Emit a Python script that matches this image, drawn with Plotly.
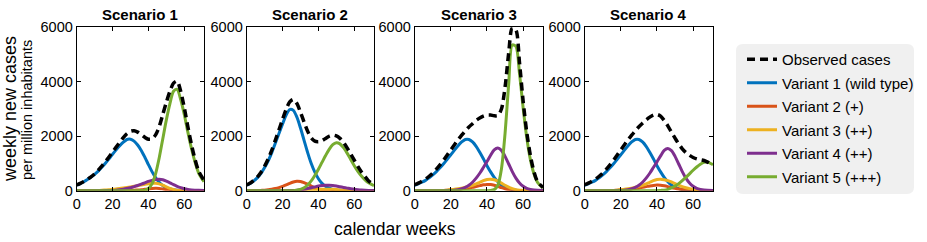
import plotly.graph_objects as go

W, H = 927, 242


def px(x):
    return x / W


def py(y):
    return 1 - y / H


WEEKS = [0, 2, 4, 6, 8, 10, 12, 14, 16, 18, 20, 22, 24, 26, 28, 30, 32, 34, 36, 38,
         40, 42, 44, 46, 48, 50, 52, 54, 56, 58, 60, 62, 64, 66, 68, 71]

SCENARIOS = ["Scenario 1", "Scenario 2", "Scenario 3", "Scenario 4"]
SERIES_NAMES = ["Variant 1 (wild type)", "Variant 2 (+)", "Variant 3 (++)",
                "Variant 4 (++)", "Variant 5 (+++)"]
OBS_NAME = "Observed cases"
X_TICKS = [0, 20, 40, 60]
Y_TICKS = [0, 2000, 4000, 6000]

# ---- Scenario 1 ----
s1_v1 = [200, 260, 330, 410, 500, 600, 720, 860, 1010, 1170, 1340, 1500, 1650, 1780, 1880, 1890, 1820, 1680, 1480, 1230,
         960, 700, 480, 310, 190, 110, 60, 35, 20, 10, 5, 0, 0, 0, 0, 0]
s1_v2 = [0, 0, 0, 0, 0, 0, 0, 0, 0, 0, 0, 0, 0, 5, 8, 12, 18, 25, 35, 50,
         65, 80, 90, 85, 65, 40, 20, 10, 5, 0, 0, 0, 0, 0, 0, 0]
s1_v3 = [0, 0, 0, 0, 0, 5, 10, 15, 25, 35, 50, 65, 80, 100, 120, 140, 160, 185, 210, 235,
         255, 270, 270, 250, 200, 140, 85, 45, 20, 10, 5, 0, 0, 0, 0, 0]
s1_v4 = [0, 0, 0, 0, 0, 0, 0, 0, 3, 6, 10, 20, 35, 55, 80, 110, 150, 190, 240, 290,
         340, 380, 410, 420, 400, 350, 290, 220, 160, 110, 70, 45, 30, 20, 12, 7]
s1_v5 = [0, 0, 0, 0, 0, 0, 0, 0, 0, 0, 0, 0, 0, 0, 0, 0, 0, 0, 5, 20,
         80, 250, 620, 1200, 1900, 2600, 3200, 3650, 3720, 3350, 2800, 2150, 1550, 1050, 650, 330]
s1_obs = [210, 270, 340, 420, 510, 620, 750, 900, 1060, 1240, 1420, 1600, 1780, 1950, 2090, 2180, 2200, 2150, 2060, 1960,
          1890, 1900, 2050, 2350, 2800, 3250, 3650, 3950, 4020, 3650, 3050, 2350, 1700, 1150, 720, 380]

# ---- Scenario 2 ----
s2_v1 = [200, 270, 360, 480, 640, 850, 1100, 1400, 1750, 2100, 2450, 2780, 2980, 2950, 2700, 2300, 1850, 1400, 1000, 680,
         440, 270, 160, 90, 50, 25, 12, 6, 0, 0, 0, 0, 0, 0, 0, 0]
s2_v2 = [0, 0, 0, 0, 10, 20, 35, 55, 80, 115, 160, 210, 270, 320, 350, 340, 300, 240, 170, 110,
         65, 35, 18, 8, 0, 0, 0, 0, 0, 0, 0, 0, 0, 0, 0, 0]
s2_v3 = [0, 0, 0, 0, 0, 0, 0, 0, 0, 0, 0, 0, 0, 0, 0, 5, 10, 15, 22, 30,
         40, 50, 55, 55, 50, 40, 30, 20, 12, 6, 0, 0, 0, 0, 0, 0]
s2_v4 = [0, 0, 0, 0, 0, 0, 0, 0, 0, 0, 0, 0, 5, 10, 20, 35, 55, 80, 110, 140,
         170, 190, 200, 200, 190, 170, 145, 120, 95, 70, 50, 35, 22, 14, 8, 4]
s2_v5 = [0, 0, 0, 0, 0, 0, 0, 0, 0, 0, 0, 0, 0, 0, 20, 50, 110, 210, 360, 560,
         790, 1040, 1290, 1520, 1690, 1760, 1720, 1580, 1380, 1150, 920, 710, 540, 400, 290, 190]
s2_obs = [210, 280, 380, 510, 680, 900, 1170, 1490, 1860, 2240, 2620, 2990, 3260, 3350, 3200, 2880, 2520, 2180, 1940, 1820,
          1800, 1840, 1920, 2000, 2040, 2010, 1920, 1770, 1570, 1350, 1120, 890, 690, 520, 360, 210]

# ---- Scenario 3 ----
s3_v1 = [200, 250, 310, 380, 470, 580, 700, 840, 990, 1150, 1320, 1490, 1650, 1790, 1880, 1880, 1790, 1630, 1410, 1170,
         920, 690, 490, 330, 210, 130, 75, 40, 20, 10, 5, 0, 0, 0, 0, 0]
s3_v2 = [0, 0, 0, 0, 0, 0, 5, 8, 10, 18, 25, 35, 45, 60, 80, 100, 125, 155, 185, 215,
         230, 225, 200, 160, 110, 70, 40, 20, 10, 0, 0, 0, 0, 0, 0, 0]
s3_v3 = [0, 0, 0, 0, 0, 0, 0, 5, 10, 20, 35, 50, 70, 95, 125, 160, 200, 250, 310, 370,
         410, 420, 400, 350, 280, 200, 130, 75, 40, 20, 10, 0, 0, 0, 0, 0]
s3_v4 = [0, 0, 0, 0, 0, 0, 0, 0, 0, 5, 10, 20, 40, 70, 120, 200, 310, 460, 640, 850,
         1070, 1300, 1500, 1570, 1480, 1260, 980, 700, 460, 280, 160, 85, 45, 22, 12, 5]
s3_v5 = [0, 0, 0, 0, 0, 0, 0, 0, 0, 0, 0, 0, 0, 0, 0, 0, 0, 0, 0, 0,
         0, 5, 40, 200, 800, 2100, 3900, 5350, 5300, 4300, 3050, 1950, 1150, 620, 300, 100]
s3_obs = [220, 280, 350, 430, 530, 650, 790, 950, 1120, 1310, 1500, 1690, 1870, 2040, 2200, 2340, 2460, 2580, 2670, 2740,
          2780, 2780, 2750, 2760, 3000, 3800, 5050, 5980, 5900, 4700, 3300, 2150, 1300, 700, 330, 120]

# ---- Scenario 4 ----
s4_v1 = [200, 250, 310, 380, 470, 580, 700, 840, 990, 1150, 1320, 1490, 1650, 1790, 1880, 1880, 1790, 1630, 1410, 1170,
         920, 690, 490, 330, 210, 130, 75, 40, 20, 10, 5, 0, 0, 0, 0, 0]
s4_v2 = [0, 0, 0, 0, 0, 0, 5, 8, 10, 18, 25, 35, 45, 60, 80, 100, 125, 150, 175, 195,
         205, 200, 180, 150, 115, 85, 60, 40, 25, 15, 8, 4, 0, 0, 0, 0]
s4_v3 = [0, 0, 0, 0, 0, 0, 0, 5, 10, 20, 35, 50, 70, 95, 125, 160, 200, 250, 310, 370,
         410, 420, 400, 370, 320, 260, 200, 150, 110, 75, 50, 30, 18, 10, 5, 3]
s4_v4 = [0, 0, 0, 0, 0, 0, 0, 0, 0, 5, 10, 20, 40, 70, 120, 200, 310, 460, 640, 850,
         1060, 1280, 1480, 1550, 1470, 1260, 980, 700, 460, 280, 160, 85, 45, 22, 12, 5]
s4_v5 = [0, 0, 0, 0, 0, 0, 0, 0, 0, 0, 0, 0, 0, 0, 0, 0, 0, 0, 0, 0,
         0, 10, 20, 50, 100, 170, 260, 370, 490, 620, 750, 870, 970, 1040, 1050, 950]
s4_obs = [220, 280, 350, 430, 530, 650, 790, 950, 1120, 1310, 1500, 1690, 1870, 2040, 2200, 2350, 2480, 2600, 2700, 2780,
          2800, 2740, 2580, 2380, 2150, 1930, 1720, 1540, 1400, 1300, 1220, 1170, 1140, 1110, 1050, 930]

DATA = [
    ([s1_v1, s1_v2, s1_v3, s1_v4, s1_v5], s1_obs),
    ([s2_v1, s2_v2, s2_v3, s2_v4, s2_v5], s2_obs),
    ([s3_v1, s3_v2, s3_v3, s3_v4, s3_v5], s3_obs),
    ([s4_v1, s4_v2, s4_v3, s4_v4, s4_v5], s4_obs),
]

COLORS = ["#0072BD", "#D95319", "#EDB120", "#7E2F8E", "#77AC30"]
FONT = "Liberation Sans, Arial, sans-serif"

# panel pixel boxes (left, right) in window pixels
PANELS_PX = [(76.7, 204.0), (246.7, 374.0), (414.7, 543.0), (584.7, 713.0)]
TOP_PX, BOT_PX = 27.3, 190.7

fig = go.Figure()
layout_axes = {}
for i, ((variants, obs), (l, r)) in enumerate(zip(DATA, PANELS_PX)):
    n = i + 1
    xa = "x" if n == 1 else f"x{n}"
    ya = "y" if n == 1 else f"y{n}"
    for j, (vals, col, name) in enumerate(zip(variants, COLORS, SERIES_NAMES)):
        fig.add_trace(go.Scatter(
            x=WEEKS, y=vals, mode="lines", name=name,
            line=dict(color=col, width=3, shape="spline", smoothing=0.8),
            xaxis=xa, yaxis=ya, legendgroup=name, legendrank=j + 2,
            showlegend=(i == 0)))
    fig.add_trace(go.Scatter(
        x=WEEKS, y=obs, mode="lines", name=OBS_NAME,
        line=dict(color="black", width=3.5, dash="8px,5px", shape="spline", smoothing=0.8),
        xaxis=xa, yaxis=ya, legendgroup=OBS_NAME, legendrank=1,
        showlegend=(i == 0)))
    axis_common = dict(showline=True, linecolor="black", linewidth=1, mirror="ticks",
                       ticks="inside", ticklen=4, tickcolor="black", tickwidth=1,
                       showgrid=False, zeroline=False, automargin=False,
                       tickfont=dict(family=FONT, size=14.5, color="black"))
    layout_axes["xaxis" if n == 1 else f"xaxis{n}"] = dict(
        domain=[px(l), px(r)], range=[0, 71], tickvals=X_TICKS, anchor=ya, **axis_common)
    layout_axes["yaxis" if n == 1 else f"yaxis{n}"] = dict(
        domain=[py(BOT_PX), py(TOP_PX)], range=[0, 6000], tickvals=Y_TICKS,
        anchor=xa, **axis_common)

annotations = []
for (l, r), title in zip(PANELS_PX, SCENARIOS):
    annotations.append(dict(text=f"<b>{title}</b>", x=px((l + r) / 2), y=py(14),
                            xref="paper", yref="paper", showarrow=False,
                            xanchor="center", yanchor="middle",
                            font=dict(family=FONT, size=15, color="black")))
annotations.append(dict(text="calendar weeks", x=px(395), y=py(229), xref="paper", yref="paper",
                        showarrow=False, xanchor="center", yanchor="middle",
                        font=dict(family=FONT, size=17.5, color="black")))
annotations.append(dict(text="weekly new cases", x=px(10), y=py(109), xref="paper", yref="paper",
                        showarrow=False, xanchor="center", yanchor="middle", textangle=-90,
                        font=dict(family=FONT, size=18, color="black")))
annotations.append(dict(text="per million inhabitants", x=px(27), y=py(110), xref="paper", yref="paper",
                        showarrow=False, xanchor="center", yanchor="middle", textangle=-90,
                        font=dict(family=FONT, size=14.5, color="black")))

# rounded legend background
x0, x1, y0, y1 = px(736), px(914), py(194), py(44)
rx, ry = 7 / W, 7 / H
path = (f"M{x0 + rx},{y0} L{x1 - rx},{y0} Q{x1},{y0} {x1},{y0 + ry} "
        f"L{x1},{y1 - ry} Q{x1},{y1} {x1 - rx},{y1} L{x0 + rx},{y1} Q{x0},{y1} {x0},{y1 - ry} "
        f"L{x0},{y0 + ry} Q{x0},{y0} {x0 + rx},{y0} Z")

fig.update_layout(
    template="none",
    width=W, height=H, autosize=False,
    margin=dict(l=0, r=0, t=0, b=0, pad=0, autoexpand=False),
    paper_bgcolor="white", plot_bgcolor="white",
    font=dict(family=FONT, color="black"),
    annotations=annotations,
    shapes=[dict(type="path", path=path, xref="paper", yref="paper",
                 fillcolor="#f0f0f0", line=dict(width=0), layer="below")],
    legend=dict(x=px(742), y=py(43), xanchor="left", yanchor="top",
                bgcolor="rgba(0,0,0,0)", borderwidth=0, tracegroupgap=1,
                traceorder="grouped", font=dict(family=FONT, size=15, color="black")),
    **layout_axes,
)

fig.write_html("out.html",
               config={"displayModeBar": False},
               post_script="document.body.style.margin='0';document.body.style.overflow='hidden';")
